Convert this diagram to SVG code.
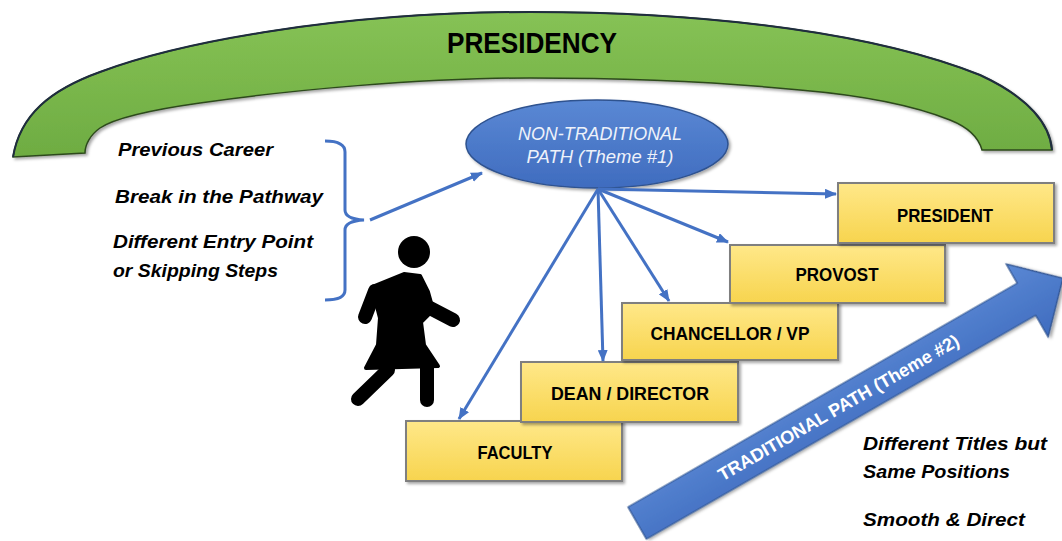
<svg xmlns="http://www.w3.org/2000/svg" width="1062" height="541" viewBox="0 0 1062 541">
<style>
.box{fill:url(#yel);stroke:#7f7f7f;stroke-width:2;filter:url(#sh)}
.bt{font-family:"Liberation Sans",Arial,sans-serif;font-weight:bold;font-size:19px;fill:#000;text-anchor:middle}
.lt{font-family:"Liberation Sans",Arial,sans-serif;font-weight:bold;font-style:italic;font-size:19px;fill:#000}
.conn{stroke:#4472c4;stroke-width:3;fill:none}
</style>
<defs>
<linearGradient id="grn" x1="0" y1="0" x2="0" y2="1">
<stop offset="0" stop-color="#86c255"/><stop offset="1" stop-color="#6eac42"/>
</linearGradient>
<linearGradient id="yel" x1="0" y1="0" x2="0" y2="1">
<stop offset="0" stop-color="#ffe889"/><stop offset="1" stop-color="#f7d44e"/>
</linearGradient>
<linearGradient id="blu" x1="0" y1="0" x2="0" y2="1">
<stop offset="0" stop-color="#5a88d4"/><stop offset="1" stop-color="#3f6cbf"/>
</linearGradient>
<filter id="sh" x="-10%" y="-10%" width="125%" height="130%">
<feDropShadow dx="2" dy="2" stdDeviation="1.5" flood-color="#000" flood-opacity="0.35"/>
</filter>
<marker id="ah" markerWidth="12" markerHeight="10" refX="11" refY="5" orient="auto" markerUnits="userSpaceOnUse">
<path d="M0,0 L12,5 L0,10 Z" fill="#4472c4"/>
</marker>
</defs>
<rect width="1062" height="541" fill="#fff"/>

<g id="presidency">
<path d="M13,157 C20,115 50,90 100,72 C180,42 340,12 530,12 C720,12 880,35 980,75 C1030,98 1050,125 1052,150 L982,150 C978,135 965,126 950,120 C920,108 870,96 800,90 C720,82 620,78 530,78 C420,78 290,90 200,103 C150,110 115,118 100,128 C90,135 85,145 85,153 Z" fill="url(#grn)" stroke="#2d4a1c" stroke-width="1.5" filter="url(#sh)"/>
<path d="M13,157 C20,115 50,90 100,72 C180,42 340,12 530,12 C720,12 880,35 980,75 C1030,98 1050,125 1052,150" fill="none" stroke="#1f2d3f" stroke-width="2"/>
<text x="532" y="53" font-family="'Liberation Sans',Arial,sans-serif" font-weight="bold" font-size="30" text-anchor="middle" textLength="170" lengthAdjust="spacingAndGlyphs">PRESIDENCY</text>
</g>

<g id="reasons">
<text class="lt" x="118" y="156" textLength="155" lengthAdjust="spacingAndGlyphs">Previous Career</text>
<text class="lt" x="115" y="203" textLength="208" lengthAdjust="spacingAndGlyphs">Break in the Pathway</text>
<text class="lt" x="113" y="248" textLength="200" lengthAdjust="spacingAndGlyphs">Different Entry Point</text>
<text class="lt" x="113" y="277" textLength="165" lengthAdjust="spacingAndGlyphs">or Skipping Steps</text>
<path d="M325,141 Q345,141 345,152 L345,210 Q345,219 364,220 Q345,221 345,230 L345,290 Q345,300 325,300" fill="none" stroke="#4472c4" stroke-width="3"/>
</g>

<g id="figure" fill="#000" stroke="#000" stroke-linecap="round" stroke-linejoin="round">
<circle cx="414" cy="252" r="16" stroke="none"/>
<path d="M372,287 L404,274 L420,276 L428,292 L433,310 L421,322 L424,345 L438,366 L366,368 L378,345 L380,318 Z" stroke-width="4"/>
<line x1="375" y1="291" x2="365" y2="317" stroke-width="14"/>
<line x1="430" y1="308" x2="453" y2="320" stroke-width="14"/>
<line x1="388" y1="370" x2="358" y2="399" stroke-width="14"/>
<line x1="427" y1="368" x2="427" y2="400" stroke-width="14"/>
</g>

<g id="nontraditional">
<ellipse cx="597" cy="144" rx="131" ry="44" fill="url(#blu)" stroke="#2f528f" stroke-width="1.5" filter="url(#sh)"/>
<text x="600" y="140" font-family="'Liberation Sans',Arial,sans-serif" font-style="italic" font-size="18" fill="#eef2fa" text-anchor="middle" textLength="164" lengthAdjust="spacingAndGlyphs">NON-TRADITIONAL</text>
<text x="600" y="163" font-family="'Liberation Sans',Arial,sans-serif" font-style="italic" font-size="18" fill="#eef2fa" text-anchor="middle" textLength="147" lengthAdjust="spacingAndGlyphs">PATH (Theme #1)</text>
</g>

<g id="traditional">
<g transform="translate(628,507) rotate(-29.9)">
<path d="M0,0 L449,0 L449,-22 L491,18.5 L449,62 L449,37 L0,37 Z" fill="url(#blu)" stroke="#2f528f" stroke-width="1.2" filter="url(#sh)"/>
<text x="232" y="25" font-family="'Liberation Sans',Arial,sans-serif" font-weight="bold" font-size="18" fill="#fff" text-anchor="middle" textLength="275" lengthAdjust="spacingAndGlyphs">TRADITIONAL PATH (Theme #2)</text>
</g>
</g>

<g id="faculty"><rect class="box" x="406" y="421" width="216" height="60"/><text class="bt" x="515" y="459" textLength="75" lengthAdjust="spacingAndGlyphs">FACULTY</text></g>
<g id="dean"><rect class="box" x="521" y="362" width="217" height="60"/><text class="bt" x="630" y="400" textLength="158" lengthAdjust="spacingAndGlyphs">DEAN / DIRECTOR</text></g>
<g id="chancellor"><rect class="box" x="622" y="303" width="216" height="57"/><text class="bt" x="730" y="340" textLength="159" lengthAdjust="spacingAndGlyphs">CHANCELLOR / VP</text></g>
<g id="provost"><rect class="box" x="730" y="245" width="215" height="58"/><text class="bt" x="837" y="281" textLength="83" lengthAdjust="spacingAndGlyphs">PROVOST</text></g>
<g id="president"><rect class="box" x="838" y="183" width="216" height="60"/><text class="bt" x="945" y="222" textLength="96" lengthAdjust="spacingAndGlyphs">PRESIDENT</text></g>

<g id="right-notes">
<text class="lt" x="863" y="450" textLength="184" lengthAdjust="spacingAndGlyphs">Different Titles but</text>
<text class="lt" x="863" y="478" textLength="147" lengthAdjust="spacingAndGlyphs">Same Positions</text>
<text class="lt" x="863" y="526" textLength="162" lengthAdjust="spacingAndGlyphs">Smooth &amp; Direct</text>
</g>

<g id="connectors">
<line class="conn" x1="370" y1="220" x2="482" y2="173" marker-end="url(#ah)"/>
<line class="conn" x1="598" y1="189" x2="836" y2="194" marker-end="url(#ah)"/>
<line class="conn" x1="598" y1="189" x2="728" y2="242" marker-end="url(#ah)"/>
<line class="conn" x1="598" y1="189" x2="669" y2="301" marker-end="url(#ah)"/>
<line class="conn" x1="598" y1="189" x2="603" y2="361" marker-end="url(#ah)"/>
<line class="conn" x1="598" y1="189" x2="459" y2="419" marker-end="url(#ah)"/>
</g>
</svg>
